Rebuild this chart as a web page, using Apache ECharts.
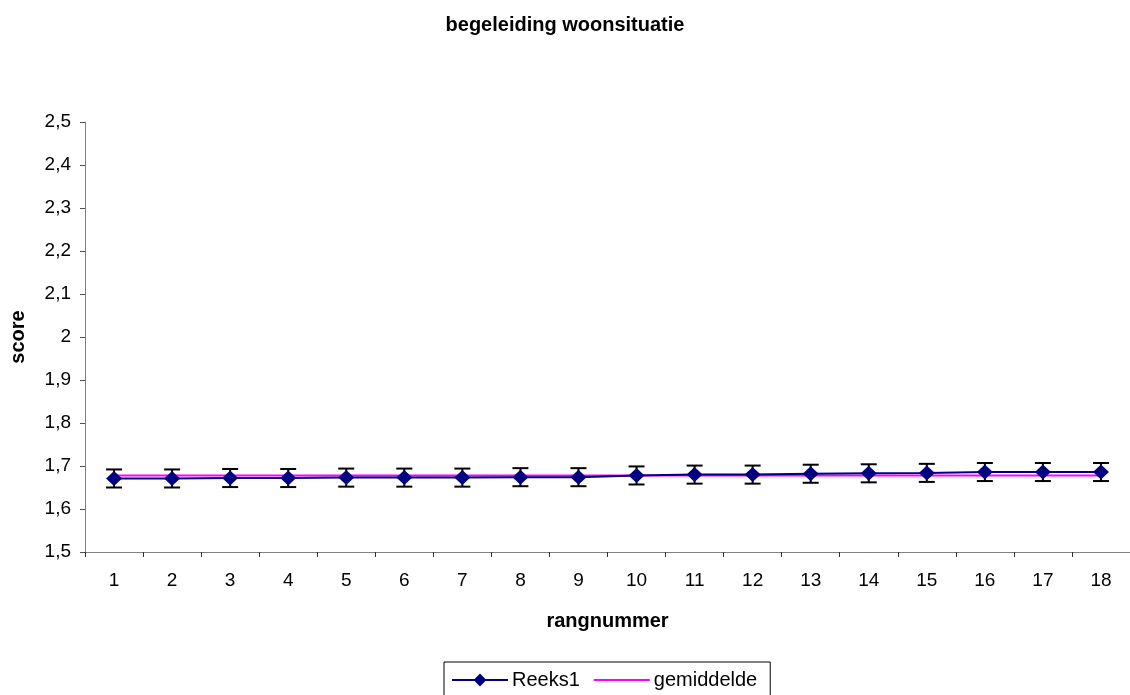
<!DOCTYPE html>
<html>
<head>
<meta charset="utf-8">
<script src="https://cdn.jsdelivr.net/npm/echarts@6/dist/echarts.min.js"></script>
<style>html,body{margin:0;padding:0;background:#fff}#c{width:1130px;height:695px}</style>
</head>
<body>
<div id="c"></div>
<script>
var categories = ['1','2','3','4','5','6','7','8','9','10','11','12','13','14','15','16','17','18'];
var reeks1 = [1.671,1.671,1.672,1.672,1.673,1.673,1.673,1.674,1.674,1.678,1.680,1.680,1.682,1.683,1.684,1.686,1.686,1.686];
var errors = [0.021,0.021,0.021,0.021,0.021,0.021,0.021,0.021,0.021,0.021,0.021,0.021,0.021,0.021,0.021,0.021,0.021,0.021];
var gemiddelde = [1.678,1.678,1.678,1.678,1.678,1.678,1.678,1.678,1.678,1.678,1.678,1.678,1.678,1.678,1.678,1.678,1.678,1.678];

var FONT = '"Liberation Sans", Arial, sans-serif';
var errData = reeks1.map(function (v, i) { return [i, v - errors[i], v + errors[i]]; });

var chart = echarts.init(document.getElementById('c'));
chart.setOption({
  animation: false,
  backgroundColor: '#fff',
  textStyle: { fontFamily: FONT, color: '#000' },
  title: {
    text: 'begeleiding woonsituatie',
    left: 'center',
    top: 10,
    textStyle: { fontFamily: FONT, fontSize: 20, fontWeight: 'bold', color: '#000' }
  },
  legend: {
    data: [
      { name: 'Reeks1' },
      { name: 'gemiddelde', icon: 'path://M0,0L56,0L56,2L0,2Z', itemStyle: { color: '#FF00FF' } }
    ],
    left: 444,
    top: 662,
    orient: 'horizontal',
    borderColor: '#000',
    borderWidth: 1,
    padding: [8, 13, 8, 7],
    itemWidth: 56,
    itemHeight: 16,
    itemGap: 14,
    textStyle: { fontFamily: FONT, fontSize: 20, color: '#000', padding: [0, 0, 0, -1] }
  },
  grid: { left: 84, right: 0, top: 122, bottom: 143, containLabel: false },
  xAxis: {
    type: 'category',
    data: categories,
    boundaryGap: true,
    name: 'rangnummer',
    nameLocation: 'middle',
    nameGap: 59,
    nameTextStyle: { fontFamily: FONT, fontSize: 20, fontWeight: 'bold', color: '#000' },
    axisLine: { lineStyle: { color: '#808080', width: 1 } },
    axisTick: { show: true, length: 5, lineStyle: { color: '#303030' } },
    axisLabel: { margin: 19, fontFamily: FONT, fontSize: 19, color: '#000' },
    splitLine: { show: false }
  },
  yAxis: {
    type: 'value',
    min: 1.5,
    max: 2.5,
    interval: 0.1,
    name: 'score',
    nameLocation: 'middle',
    nameGap: 57,
    nameRotate: 90,
    nameTextStyle: { fontFamily: FONT, fontSize: 20, fontWeight: 'bold', color: '#000' },
    axisLine: { show: true, lineStyle: { color: '#808080', width: 1 } },
    axisTick: { show: true, length: 5, lineStyle: { color: '#505050' } },
    axisLabel: {
      margin: 14,
      fontFamily: FONT, fontSize: 19, color: '#000',
      formatter: function (v) { return String(Math.round(v * 10) / 10).replace('.', ','); }
    },
    splitLine: { show: false }
  },
  series: [
    {
      name: 'errbars',
      type: 'custom',
      z: 1,
      silent: true,
      data: errData,
      renderItem: function (params, api) {
        var idx = api.value(0);
        var lo = api.coord([idx, api.value(1)]);
        var hi = api.coord([idx, api.value(2)]);
        var hw = 8;
        var st = { stroke: '#000', lineWidth: 2 };
        return {
          type: 'group',
          children: [
            { type: 'line', shape: { x1: hi[0], y1: hi[1], x2: lo[0], y2: lo[1] }, style: st },
            { type: 'line', shape: { x1: hi[0] - hw, y1: hi[1], x2: hi[0] + hw, y2: hi[1] }, style: st },
            { type: 'line', shape: { x1: lo[0] - hw, y1: lo[1], x2: lo[0] + hw, y2: lo[1] }, style: st }
          ]
        };
      }
    },
    {
      name: 'gemiddelde',
      type: 'line',
      z: 2,
      data: gemiddelde,
      showSymbol: false,
      symbol: 'none',
      lineStyle: { color: '#FF00FF', width: 2 },
      itemStyle: { color: '#FF00FF' }
    },
    {
      name: 'Reeks1',
      type: 'line',
      z: 3,
      data: reeks1,
      symbol: 'diamond',
      symbolSize: [16, 15],
      lineStyle: { color: '#000080', width: 2 },
      itemStyle: { color: '#000080', borderWidth: 0 }
    }
  ]
});
</script>
</body>
</html>
